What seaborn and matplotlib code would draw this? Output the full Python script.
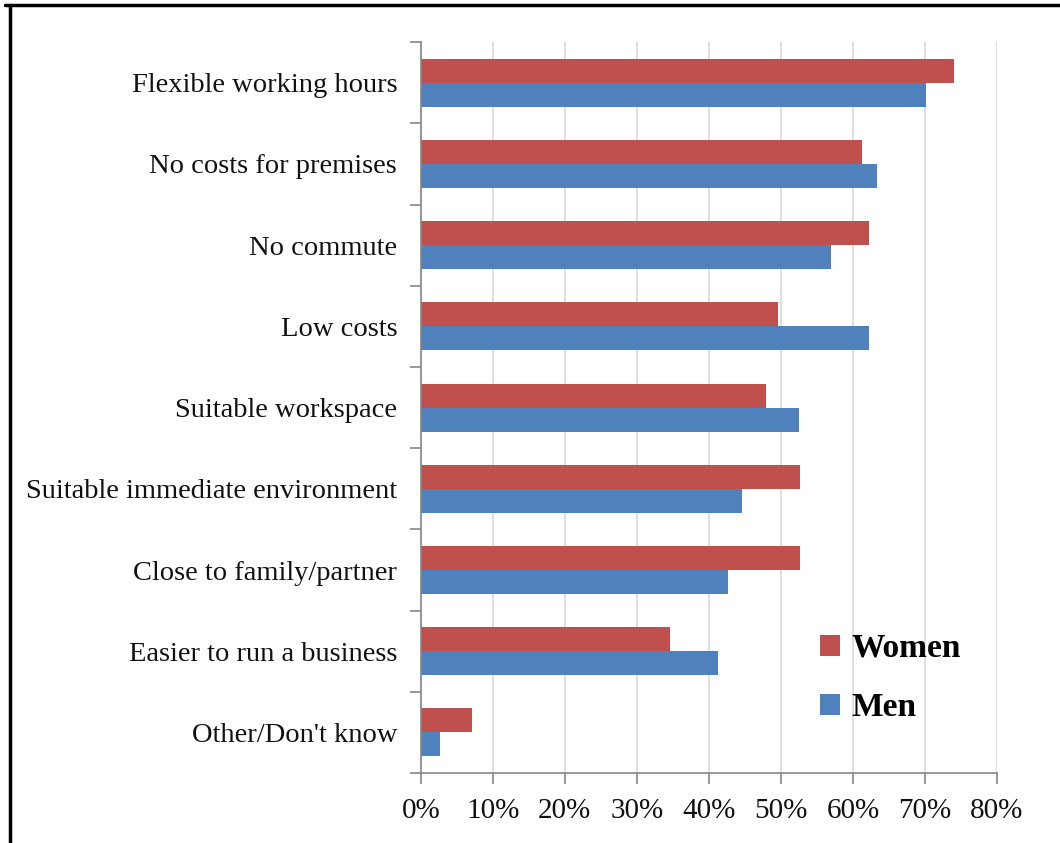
import numpy as np
import pandas as pd
import matplotlib.pyplot as plt
import seaborn as sns
from matplotlib.lines import Line2D

categories = ["Flexible working hours", "No costs for premises", "No commute", "Low costs",
              "Suitable workspace", "Suitable immediate environment", "Close to family/partner",
              "Easier to run a business", "Other/Don't know"]
women = [74.1, 61.3, 62.2, 49.6, 47.9, 52.7, 52.7, 34.6, 7.1]
men = [70.1, 63.3, 57.0, 62.2, 52.5, 44.6, 42.6, 41.3, 2.6]
x_ticks = [0, 10, 20, 30, 40, 50, 60, 70, 80]

df = pd.DataFrame({'Reason': categories * 2,
                   'Share': women + men,
                   'Group': ['Women'] * len(categories) + ['Men'] * len(categories)})

sns.set_theme(style='white')
plt.rcParams['font.family'] = ['Liberation Serif', 'DejaVu Serif']

fig = plt.figure(figsize=(10.6, 8.43), dpi=100)
ax = fig.add_axes([0.397, 0.083, 0.5435, 0.867])

sns.barplot(data=df, y='Reason', x='Share', hue='Group', order=categories,
            hue_order=['Women', 'Men'], palette=['#C0504D', '#4F81BD'],
            orient='h', width=0.59, saturation=1, linewidth=0, ax=ax)

ax.set_xlim(0, 80)
ax.set_ylim(len(categories) - 0.5, -0.5)
ax.set_xticks(x_ticks)
ax.set_xticklabels([f"{t}%" for t in x_ticks], fontsize=21, color='#111111')
ax.set_yticks(range(len(categories)))
ax.set_yticklabels(categories, fontsize=20.5, color='#111111')
ax.set_yticks(np.arange(-0.5, len(categories) + 0.5, 1), minor=True)
ax.tick_params(axis='y', which='major', length=0, pad=17)
ax.tick_params(axis='y', which='minor', length=8, color='#868686', width=1.2, left=True)
ax.tick_params(axis='x', length=8, color='#868686', width=1.2, bottom=True, pad=10)
ax.set_xlabel('')
ax.set_ylabel('')
ax.grid(axis='x', color='#D9D9D9', linewidth=1.2)
ax.set_axisbelow(True)
for s in ['top', 'right']:
    ax.spines[s].set_visible(False)
for s in ['left', 'bottom']:
    ax.spines[s].set_color('#868686')
    ax.spines[s].set_linewidth(1.2)

leg = ax.legend(loc='lower left', bbox_to_anchor=(0.693, 0.068), frameon=False,
                prop={'weight': 'bold', 'size': 24}, handlelength=0.6, handleheight=0.6,
                handletextpad=0.35, labelspacing=0.85, borderpad=0, borderaxespad=0)
for t in leg.get_texts():
    t.set_color('black')

# outer frame (top and left only, as in the source image)
fig.add_artist(Line2D([5 / 1060, 1], [1 - 5 / 843, 1 - 5 / 843], color='black', linewidth=2.5,
                      transform=fig.transFigure))
fig.add_artist(Line2D([10 / 1060, 10 / 1060], [0, 1 - 5 / 843], color='black', linewidth=2.5,
                      transform=fig.transFigure))

fig.savefig('out.png', dpi=100)
